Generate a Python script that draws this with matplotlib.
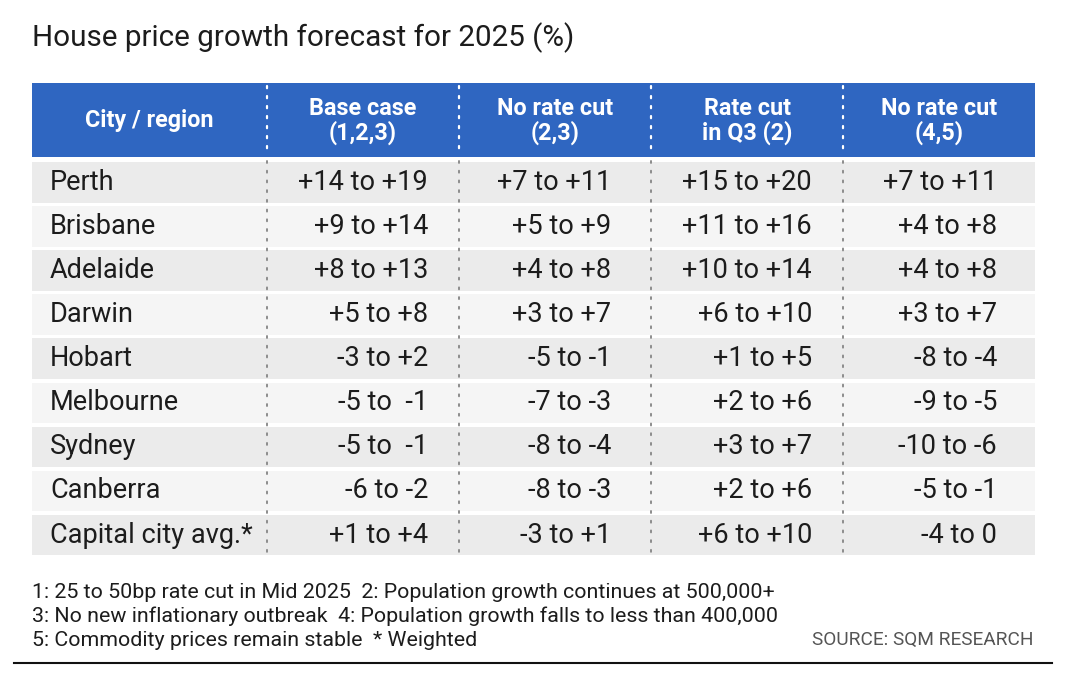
import matplotlib.pyplot as plt
from matplotlib.patches import Rectangle

# table content
title = "House price growth forecast for 2025 (%)"
headers = ["City / region", "Base case\n(1,2,3)", "No rate cut\n(2,3)",
           "Rate cut\nin Q3 (2)", "No rate cut\n(4,5)"]
cities = ["Perth", "Brisbane", "Adelaide", "Darwin", "Hobart",
          "Melbourne", "Sydney", "Canberra", "Capital city avg.*"]
base_case = ["+14 to +19", "+9 to +14", "+8 to +13", "+5 to +8", "-3 to +2",
             "-5 to  -1", "-5 to  -1", "-6 to -2", "+1 to +4"]
no_cut_23 = ["+7 to +11", "+5 to +9", "+4 to +8", "+3 to +7", "-5 to -1",
             "-7 to -3", "-8 to -4", "-8 to -3", "-3 to +1"]
cut_q3 = ["+15 to +20", "+11 to +16", "+10 to +14", "+6 to +10", "+1 to +5",
          "+2 to +6", "+3 to +7", "+2 to +6", "+6 to +10"]
no_cut_45 = ["+7 to +11", "+4 to +8", "+4 to +8", "+3 to +7", "-8 to -4",
             "-9 to -5", "-10 to -6", "-5 to -1", "-4 to 0"]
footnotes = ["1: 25 to 50bp rate cut in Mid 2025  2: Population growth continues at 500,000+",
             "3: No new inflationary outbreak  4: Population growth falls to less than 400,000",
             "5: Commodity prices remain stable  * Weighted"]
source = "SOURCE: SQM RESEARCH"

W, H = 1080, 689
FONT = "Roboto"
BLUE = "#2f66c1"
TEXT = "#1c1c1c"

fig = plt.figure(figsize=(W / 100, H / 100), dpi=100)
ax = fig.add_axes([0, 0, 1, 1])
ax.set_xlim(0, W)
ax.set_ylim(H, 0)
ax.axis("off")

left, right = 32, 1035
col_edges = [left, 267, 459, 651, 843, right]
head_top, head_bot = 83, 157
row_top, row_pitch, row_h = 162, 44.1, 40.5

ax.text(32, 38, title, fontsize=21.3, family=FONT, color=TEXT, va="center", ha="left")

# header
ax.add_patch(Rectangle((left, head_top), right - left, head_bot - head_top,
                       facecolor=BLUE, edgecolor="none"))
for i, h in enumerate(headers):
    cx = (col_edges[i] + col_edges[i + 1]) / 2
    ax.text(cx, (head_top + head_bot) / 2 + 1, h, fontsize=16.8, family=FONT,
            weight="bold", color="white", ha="center", va="center", linespacing=1.05)

# body rows
value_cols = [base_case, no_cut_23, cut_q3, no_cut_45]
value_right = [428, 611, 812, 997]
for r, city in enumerate(cities):
    y0 = row_top + r * row_pitch
    shade = "#ebebeb" if r % 2 == 0 else "#f5f5f5"
    ax.add_patch(Rectangle((left, y0), right - left, row_h, facecolor=shade, edgecolor="none"))
    cy = y0 + row_h / 2
    ax.text(50, cy, city, fontsize=19.5, family=FONT, color=TEXT, ha="left", va="center")
    for vals, xr in zip(value_cols, value_right):
        ax.text(xr, cy, vals[r], fontsize=19.5, family=FONT, color=TEXT,
                ha="right", va="center")

# dotted dividers
body_end = row_top + (len(cities) - 1) * row_pitch + row_h
for x in col_edges[1:-1]:
    ax.plot([x, x], [head_top + 3, head_bot - 2], color="white", lw=1.6,
            linestyle=(0, (1, 3.5)), dash_capstyle="round")
    ax.plot([x, x], [head_bot + 4, body_end], color="#8c8c8c", lw=1.4,
            linestyle=(0, (1, 4)), dash_capstyle="round")

# footnotes
for i, line in enumerate(footnotes):
    ax.text(32, 593 + i * 23.5, line, fontsize=15.4, family=FONT, color=TEXT,
            ha="left", va="center")
ax.text(1033, 640, source, fontsize=13.7, family=FONT, color="#555555",
        ha="right", va="center")
ax.plot([14, 1052], [663, 663], color="#111111", lw=1.5)

fig.savefig("out.png", dpi=100)
